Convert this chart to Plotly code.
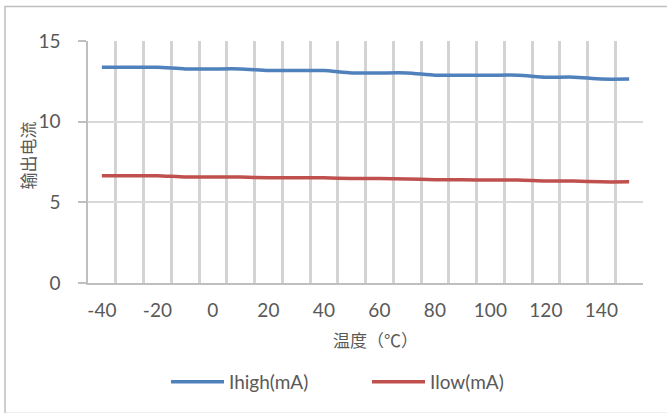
import plotly.graph_objects as go

temps = [-40, -30, -20, -10, 0, 10, 20, 30, 40, 50, 60, 70, 80, 90, 100, 110, 120, 130, 140, 150]
ihigh = [13.37, 13.37, 13.37, 13.27, 13.27, 13.27, 13.17, 13.17, 13.17, 13.02, 13.02, 13.02,
         12.88, 12.88, 12.88, 12.88, 12.76, 12.76, 12.64, 12.64]
ilow = [6.65, 6.65, 6.65, 6.57, 6.57, 6.57, 6.52, 6.52, 6.52, 6.48, 6.47, 6.45,
        6.40, 6.40, 6.38, 6.38, 6.32, 6.32, 6.27, 6.27]
x_ticks = [-40, -20, 0, 20, 40, 60, 80, 100, 120, 140]
y_ticks = [0, 5, 10, 15]

L, R, T, B = 88, 24, 41, 127
W, H = 667, 413
pw, ph = W - L - R, H - T - B

def px_x(p):
    return (p - L) / pw

def px_y(p):
    return (H - B - p) / ph

tick_font = dict(family="Lato", size=19, color="#595959")
grid_c = "#d9d9d9"
vgrid_c = "#d3d3d3"
axis_c = "#bfbfbf"
xrange = [temps[0] - 5, temps[-1] + 5]
yrange = [y_ticks[0], y_ticks[-1]]

# category-boundary positions (grid lines sit between the categories)
x_bounds = [t - 5 for t in temps] + [temps[-1] + 5]

fig = go.Figure()
fig.add_trace(go.Scatter(x=temps, y=ihigh, mode="lines", name="Ihigh(mA)",
                         line=dict(color="#4F81BD", width=3.5, shape="spline", smoothing=0.6)))
fig.add_trace(go.Scatter(x=temps, y=ilow, mode="lines", name="Ilow(mA)",
                         line=dict(color="#C0504D", width=3.5, shape="spline", smoothing=0.6)))

fig.update_layout(
    xaxis=dict(range=xrange, tickmode="array", tickvals=x_bounds,
               showticklabels=False, ticks="",
               showgrid=True, gridcolor=vgrid_c, gridwidth=2.5, zeroline=False,
               showline=True, linecolor=axis_c, linewidth=1.5, mirror=False),
    xaxis2=dict(range=xrange, overlaying="x", anchor="y", side="bottom",
                tickmode="array", tickvals=x_ticks,
                ticktext=[str(v) for v in x_ticks], ticks="",
                tickfont=tick_font, ticklabelstandoff=14,
                showgrid=False, zeroline=False, showline=False),
    yaxis=dict(range=yrange, tickmode="array", tickvals=y_ticks,
               showgrid=True, gridcolor=grid_c, gridwidth=2,
               ticks="outside", ticklen=8, tickcolor=axis_c, tickwidth=1.5,
               tickfont=tick_font, ticklabelstandoff=14,
               showline=True, linecolor=axis_c, linewidth=1.5, zeroline=False),
)
fig.add_trace(go.Scatter(x=[temps[0]], y=[0], xaxis="x2", yaxis="y", mode="markers",
                         marker=dict(opacity=0), showlegend=False, hoverinfo="skip"))

fig.add_annotation(text="输出电流", textangle=-90, xref="paper", yref="paper",
                   x=px_x(28), y=px_y(157), xanchor="center", yanchor="middle",
                   showarrow=False,
                   font=dict(family="Noto Sans CJK SC", size=17, color="#595959"))
fig.add_annotation(text="温度（℃）", xref="paper", yref="paper",
                   x=px_x(375), y=px_y(343), xanchor="center", yanchor="middle",
                   showarrow=False,
                   font=dict(family="Noto Sans CJK SC", size=17, color="#595959"))

fig.add_shape(type="rect", xref="paper", yref="paper",
              x0=px_x(5), x1=px_x(672), y0=px_y(418), y1=px_y(6),
              line=dict(color="#bfbfbf", width=1.5), layer="above")

fig.update_layout(width=W, height=H, margin=dict(l=L, r=R, t=T, b=B),
                  paper_bgcolor="white", plot_bgcolor="white",
                  showlegend=True,
                  legend=dict(orientation="h", xanchor="center", yanchor="middle",
                              x=px_x(367), y=px_y(386), font=tick_font,
                              itemwidth=53, entrywidth=133, bgcolor="rgba(0,0,0,0)"))

fig.write_html("out.html")
